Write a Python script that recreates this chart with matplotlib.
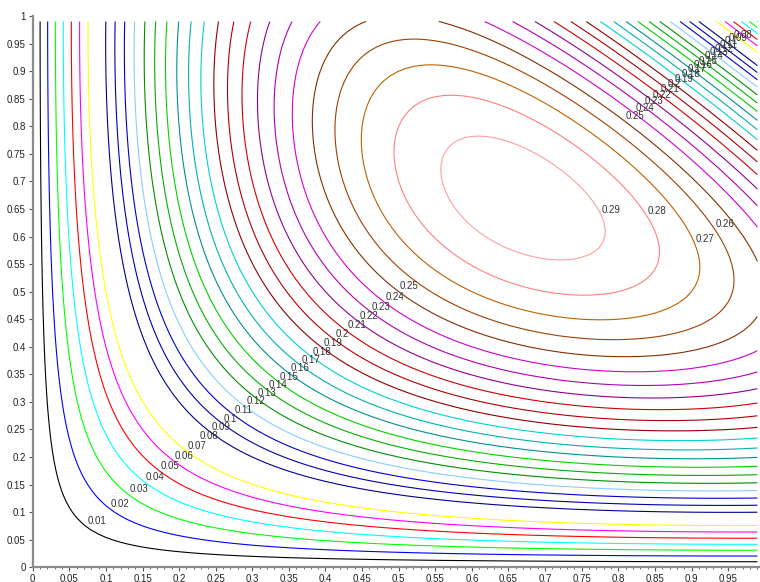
import matplotlib
matplotlib.use('Agg')
import matplotlib.pyplot as plt
import numpy as np
from matplotlib.ticker import MultipleLocator, FormatStrFormatter

plt.rc('font', family='Liberation Sans')

# sampling grid of the surface z = x*y*(2-x-y), 0:0.01:0.99 like the scilab run
x = np.arange(0, 100) / 100
y = np.arange(0, 100) / 100
levels = [round(0.01 * k, 2) for k in range(1, 30)]
# scilab default colormap, entries 1..29 (entry 8 is white)
level_colors = ['#000000', '#0000ff', '#00ff00', '#00ffff', '#ff0000', '#ff00ff',
                '#ffff00', '#ffffff', '#000090', '#0000b0', '#0000d0', '#87ceff',
                '#009000', '#00b000', '#00d000', '#009090', '#00b0b0', '#00d0d0',
                '#900000', '#b00000', '#d00000', '#900090', '#b000b0', '#d000d0',
                '#803000', '#a04000', '#c06000', '#ff8080', '#ffa0a0']
# closed contours (0.26..0.29): height at which scilab put the label
closed_levels = [0.26, 0.27, 0.28, 0.29]
closed_label_y = [0.613, 0.586, 0.636, 0.639]
# smallest level that still gets a label in the top right corner
corner_min_level = 0.08


def surf(x, y):
    return x * y * (2 - x - y)


X, Y = np.meshgrid(x, y)
Z = surf(X, Y)

fig = plt.figure(figsize=(7.6, 5.82), dpi=100)
ax = fig.add_axes([32.7 / 760, 14.7 / 582, 732 / 760, 551.3 / 582])
ax.contour(X, Y, Z, levels=levels, colors=level_colors, linewidths=0.8)

lab = dict(fontsize=7, color='#333333', ha='left', va='baseline',
           textcoords='offset points', xytext=(0.5, 1.8), annotation_clip=False)

# open contours: labelled where they cross the diagonal
for c in levels:
    if c in closed_levels:
        continue
    r = np.roots([-2, 2, 0, -c])
    r = np.sort(r[np.isreal(r)].real)
    r = r[(r > 0) & (r <= x[-1])]
    for t in r:
        if t > 2 / 3 and c < corner_min_level:
            continue
        ax.annotate('%g' % c, (t, t), **lab)

# closed contours: right hand side of the ellipse
for c, yc in zip(closed_levels, closed_label_y):
    b = 2 - yc
    xr = (b + np.sqrt(b * b - 4 * c / yc)) / 2
    ax.annotate('%g' % c, (xr, yc), **lab)

ax.set_xlim(0, 1)
ax.set_ylim(0, 1)
for s in ['top', 'right']:
    ax.spines[s].set_visible(False)
for s in ['left', 'bottom']:
    ax.spines[s].set_color('#8c8c8c')
    ax.spines[s].set_linewidth(1.6)

ax.xaxis.set_major_locator(MultipleLocator(0.05))
ax.xaxis.set_minor_locator(MultipleLocator(0.01))
ax.yaxis.set_major_locator(MultipleLocator(0.05))
ax.xaxis.set_major_formatter(FormatStrFormatter('%g'))
ax.yaxis.set_major_formatter(FormatStrFormatter('%g'))
ax.tick_params(which='major', direction='out', length=3, width=0.8,
               color='#555555', labelsize=7, labelcolor='#222222', pad=2)
ax.tick_params(which='minor', direction='out', length=1.5, width=0.6,
               color='#555555')

plt.savefig('out.png', dpi=100)
